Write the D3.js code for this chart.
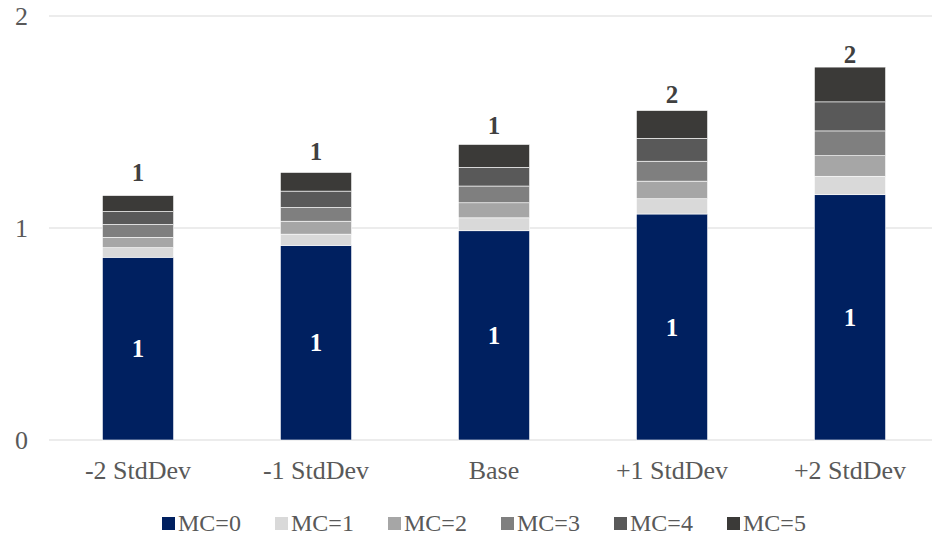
<!DOCTYPE html>
<html>
<head>
<meta charset="utf-8">
<script src="https://cdn.jsdelivr.net/npm/d3@7"></script>
<style>
  html, body { margin: 0; padding: 0; background: #ffffff; }
  svg { display: block; }
</style>
</head>
<body>
<svg id="chart" width="932" height="537"></svg>
<script>
// Scenario categories along the x axis
const categories = ["-2 StdDev", "-1 StdDev", "Base", "+1 StdDev", "+2 StdDev"];

// Series names (stack order, bottom to top)
const seriesNames = ["MC=0", "MC=1", "MC=2", "MC=3", "MC=4", "MC=5"];

// Values per series, one per category
const mc0 = [0.862, 0.918, 0.987, 1.066, 1.157];
const mc1 = [0.045, 0.053, 0.061, 0.072, 0.087];
const mc2 = [0.049, 0.061, 0.071, 0.083, 0.097];
const mc3 = [0.061, 0.065, 0.079, 0.094, 0.117];
const mc4 = [0.061, 0.077, 0.088, 0.108, 0.137];
const mc5 = [0.075, 0.088, 0.108, 0.131, 0.164];

// Y axis tick values
const yTicks = [0, 1, 2];

const seriesValues = [mc0, mc1, mc2, mc3, mc4, mc5];
const colors = ["#002060", "#d9d9d9", "#a6a6a6", "#7f7f7f", "#595959", "#3b3a38"];
const FONT = "'Liberation Serif', 'Times New Roman', 'DejaVu Serif', serif";

const rows = categories.map((c, i) => {
  const r = { category: c };
  seriesNames.forEach((s, k) => { r[s] = seriesValues[k][i]; });
  return r;
});

const svg = d3.select("#chart");
const fmt = d3.format(".0f");

const x = d3.scaleBand()
  .domain(categories)
  .range([49, 939])
  .paddingInner(0.6)
  .paddingOuter(0.3);

const y = d3.scaleLinear()
  .domain([0, 2])
  .range([440, 16]);

// Total labels sit on their own (secondary) scale
const yTotal = d3.scaleLinear()
  .domain([0, 2])
  .range([405, 16.4]);

// Horizontal gridlines
svg.append("g")
  .selectAll("line")
  .data(yTicks)
  .join("line")
  .attr("x1", 49)
  .attr("x2", 932)
  .attr("y1", d => y(d))
  .attr("y2", d => y(d))
  .attr("stroke", "#d9d9d9")
  .attr("stroke-width", 1.2);

// Y axis labels
const yAxis = d3.axisLeft(y).tickValues(yTicks).tickFormat(d3.format("d")).tickSize(0).tickPadding(0);
svg.append("g")
  .attr("transform", "translate(28,0)")
  .call(yAxis)
  .attr("font-family", FONT)
  .attr("font-size", 26)
  .call(g => g.select(".domain").remove())
  .call(g => g.selectAll("text").attr("fill", "#595959"));

// X axis labels
const xAxis = d3.axisBottom(x).tickSize(0).tickPadding(0);
svg.append("g")
  .attr("transform", "translate(0,461)")
  .call(xAxis)
  .attr("font-family", FONT)
  .attr("font-size", 26)
  .call(g => g.select(".domain").remove())
  .call(g => g.selectAll("text").attr("fill", "#595959"));

// Stacked bars
const stack = d3.stack().keys(seriesNames);
const stacked = stack(rows);

const layers = svg.append("g")
  .selectAll("g")
  .data(stacked)
  .join("g")
  .attr("fill", (d, i) => colors[i]);

layers.selectAll("rect")
  .data(d => d)
  .join("rect")
  .attr("x", d => x(d.data.category))
  .attr("width", x.bandwidth())
  .attr("y", d => y(d[1]))
  .attr("height", d => y(d[0]) - y(d[1]))
  .attr("stroke", "#ffffff")
  .attr("stroke-width", 0.6);

// Labels inside the MC=0 segment
svg.append("g")
  .attr("font-family", FONT)
  .selectAll("text")
  .data(stacked[0])
  .join("text")
  .attr("x", d => x(d.data.category) + x.bandwidth() / 2)
  .attr("y", d => (y(d[0]) + y(d[1])) / 2)
  .attr("dy", "0.35em")
  .attr("text-anchor", "middle")
  .attr("fill", "#ffffff")
  .attr("font-weight", "bold")
  .attr("font-size", 25)
  .text(d => fmt(d[1] - d[0]));

// Total labels above each bar
const topLayer = stacked[stacked.length - 1];
svg.append("g")
  .attr("font-family", FONT)
  .selectAll("text")
  .data(topLayer)
  .join("text")
  .attr("x", d => x(d.data.category) + x.bandwidth() / 2)
  .attr("y", d => yTotal(d[1]))
  .attr("text-anchor", "middle")
  .attr("fill", "#404040")
  .attr("font-weight", "bold")
  .attr("font-size", 25)
  .text(d => fmt(d[1]));

// Legend
const legendX = d3.scalePoint().domain(seriesNames).range([162, 727]);
const legend = svg.append("g")
  .attr("font-family", FONT)
  .selectAll("g")
  .data(seriesNames)
  .join("g")
  .attr("transform", d => `translate(${legendX(d)},0)`);

legend.append("rect")
  .attr("x", 0)
  .attr("y", 517)
  .attr("width", 13)
  .attr("height", 13)
  .attr("fill", (d, i) => colors[i]);

legend.append("text")
  .attr("x", 16)
  .attr("y", 531)
  .attr("fill", "#595959")
  .attr("font-size", 24)
  .text(d => d);
</script>
</body>
</html>
